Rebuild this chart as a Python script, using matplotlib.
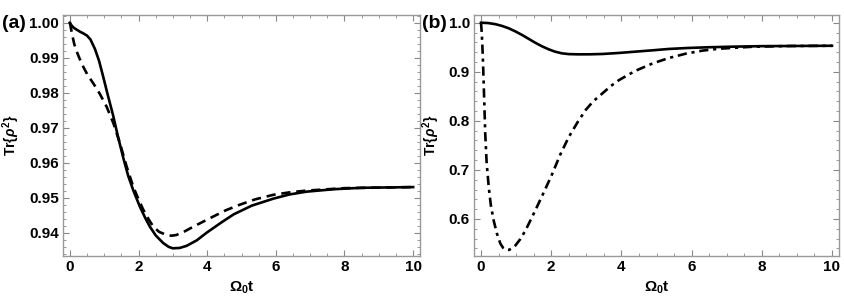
import matplotlib.pyplot as plt
from matplotlib.ticker import MultipleLocator

plt.rcParams['font.family'] = ['Liberation Sans', 'DejaVu Sans']
plt.rcParams['font.weight'] = 'bold'
plt.rcParams['mathtext.fontset'] = 'custom'
plt.rcParams['mathtext.rm'] = 'Liberation Sans:bold'
plt.rcParams['mathtext.it'] = 'Liberation Sans:bold:italic'
plt.rcParams['mathtext.bf'] = 'Liberation Sans:bold'

# panel (a)
ta_solid = [0, 0.05, 0.12, 0.2, 0.3, 0.4, 0.5, 0.6, 0.73, 0.85, 0.97, 1.1, 1.26, 1.4,
            1.56, 1.7, 1.85, 2.04, 2.2, 2.33, 2.5, 2.72, 2.88, 3.0, 3.2, 3.4, 3.7,
            3.99, 4.4, 4.77, 5.3, 5.93, 6.4, 6.9, 7.7, 8.5, 10]
a_solid = [1.0, 0.9992, 0.9985, 0.998, 0.9974, 0.9969, 0.9963, 0.9952, 0.9925, 0.9891,
           0.9846, 0.9795, 0.9735, 0.9675, 0.9612, 0.9562, 0.952, 0.9474, 0.9441,
           0.9417, 0.9392, 0.937, 0.9359, 0.9355, 0.9356, 0.9362, 0.9378, 0.940,
           0.9428, 0.9452, 0.9477, 0.9497, 0.9509, 0.9517, 0.9524, 0.9528, 0.953]
ta_dash = [0, 0.04, 0.08, 0.13, 0.19, 0.28, 0.39, 0.52, 0.68, 0.87, 1.07, 1.27, 1.46,
           1.65, 1.85, 2.0, 2.14, 2.3, 2.43, 2.6, 2.82, 2.96, 3.1, 3.3, 3.6, 3.9,
           4.18, 4.55, 4.96, 5.4, 5.93, 6.4, 6.9, 8.0, 10]
a_dash = [1.0, 0.998, 0.996, 0.9938, 0.992, 0.9898, 0.9874, 0.985, 0.9827, 0.9797,
          0.976, 0.9712, 0.9655, 0.959, 0.953, 0.9495, 0.9465, 0.9437, 0.9417, 0.9402,
          0.9393, 0.9391, 0.9393, 0.9401, 0.9417, 0.9432, 0.9446, 0.9464, 0.948,
          0.9495, 0.9508, 0.9515, 0.952, 0.9527, 0.953]

# panel (b)
tb_solid = [0, 0.2, 0.41, 0.6, 0.79, 0.98, 1.17, 1.36, 1.55, 1.74, 1.93, 2.1, 2.3,
            2.5, 2.78, 3.1, 3.45, 3.9, 4.4, 4.9, 5.35, 5.9, 6.5, 7.2, 8, 10]
b_solid = [1.0, 0.9993, 0.997, 0.9934, 0.9886, 0.9822, 0.975, 0.967, 0.959, 0.9518,
           0.9457, 0.9412, 0.9376, 0.936, 0.9355, 0.9356, 0.9362, 0.9382, 0.941,
           0.9438, 0.9465, 0.9485, 0.950, 0.9512, 0.9522, 0.953]
tb_dd = [0, 0.02, 0.04, 0.06, 0.076, 0.1, 0.12, 0.16, 0.22, 0.28, 0.36, 0.45, 0.55,
         0.63, 0.71, 0.8, 0.9, 0.98, 1.12, 1.27, 1.4, 1.55, 1.8, 2.03, 2.25, 2.5,
         2.75, 2.98, 3.2, 3.46, 3.7, 3.93, 4.4, 4.89, 5.35, 5.84, 6.3, 6.79, 7.74,
         8.8, 10]
b_dd = [1.0, 0.98, 0.95, 0.912, 0.876, 0.822, 0.774, 0.715, 0.665, 0.628, 0.597,
        0.571, 0.55, 0.541, 0.537, 0.537, 0.541, 0.546, 0.559, 0.577, 0.596, 0.618,
        0.656, 0.692, 0.73, 0.767, 0.797, 0.822, 0.84, 0.856, 0.871, 0.883, 0.902,
        0.917, 0.928, 0.937, 0.943, 0.947, 0.951, 0.9525, 0.953]

fig = plt.figure(figsize=(8.45, 3.0), dpi=100)
ax1 = fig.add_axes([63 / 845, 1 - 256 / 300, 357 / 845, 241 / 300])
ax2 = fig.add_axes([474 / 845, 1 - 256 / 300, 365 / 845, 241 / 300])

ax1.plot(ta_solid, a_solid, color='black', lw=1.9)
ax1.plot(ta_dash, a_dash, color='black', lw=1.9, dashes=(3.5, 2.2))
ax1.set_ylim(0.9333, 1.0022)
ax1.yaxis.set_major_locator(MultipleLocator(0.01))
ax1.yaxis.set_minor_locator(MultipleLocator(0.002))
ax1.yaxis.set_major_formatter(plt.FormatStrFormatter('%.2f'))

ax2.plot(tb_solid, b_solid, color='black', lw=1.9)
ax2.plot(tb_dd, b_dd, color='black', lw=1.9, dashes=(3.5, 1.8, 1.2, 1.8))
ax2.set_ylim(0.5245, 1.0157)
ax2.yaxis.set_major_locator(MultipleLocator(0.1))
ax2.yaxis.set_minor_locator(MultipleLocator(0.02))
ax2.yaxis.set_major_formatter(plt.FormatStrFormatter('%.1f'))

for ax in (ax1, ax2):
    ax.set_xlim(-0.2, 10.2)
    ax.xaxis.set_major_locator(MultipleLocator(2))
    ax.xaxis.set_minor_locator(MultipleLocator(0.5))
    ax.tick_params(which='both', direction='in', top=True, right=True,
                   color='#888888', labelsize=11, pad=3)
    ax.tick_params(which='major', length=4, width=0.8)
    ax.tick_params(which='minor', length=2, width=0.6)
    for s in ax.spines.values():
        s.set_color('#999999')
        s.set_linewidth(1.0)
    ax.set_xlabel(r'$\Omega_0$t', fontsize=11, fontweight='bold', labelpad=4)
    ax.set_ylabel(r'Tr{$\rho^2$}', fontsize=10, fontweight='bold', labelpad=5)

fig.text(2 / 845, 1 - 23 / 300, '(a)', fontsize=14, fontweight='bold', va='center')
fig.text(422 / 845, 1 - 23 / 300, '(b)', fontsize=14, fontweight='bold', va='center')

fig.savefig('out.png', dpi=100)
